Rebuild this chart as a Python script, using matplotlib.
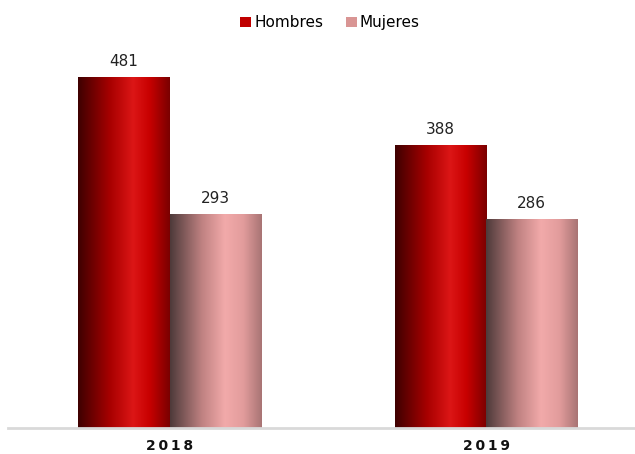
#!/usr/bin/python
# -*- coding: UTF-8 -*-
"""
Hombres / Mujeres por año - barras con degradado
"""
import matplotlib
matplotlib.use('Agg')
import matplotlib.pyplot as plt
import numpy as np
from matplotlib.colors import LinearSegmentedColormap
from matplotlib.patches import Patch

# datos
years = ['2018', '2019']
hombres = [481, 388]
mujeres = [293, 286]
series_names = ['Hombres', 'Mujeres']

plt.rcParams['font.family'] = ['DejaVu Sans']

# degradados horizontales (efecto cilindro)
cmap_h = LinearSegmentedColormap.from_list('h', [
    (0.0, '#3e0000'), (0.35, '#a80000'), (0.6, '#dc1616'),
    (0.78, '#c80000'), (1.0, '#7a0000')])
cmap_m = LinearSegmentedColormap.from_list('m', [
    (0.0, '#4e3a3a'), (0.35, '#c08282'), (0.6, '#f2aaaa'),
    (0.8, '#e29c9c'), (1.0, '#a87474')])

fig = plt.figure(figsize=(6.35, 4.54), dpi=100)
ax = fig.add_axes([8 / 635, 26 / 454, 627 / 635, 364 / 454])

x = np.arange(len(years))
width = 0.2875
grad = np.linspace(0, 1, 256).reshape(1, -1)

# barras con imshow para el degradado
for xi, vals, cmap in [(x - width / 2, hombres, cmap_h), (x + width / 2, mujeres, cmap_m)]:
    for cx, v in zip(xi, vals):
        ax.imshow(grad, cmap=cmap, aspect='auto', interpolation='bilinear',
                  extent=(cx - width / 2, cx + width / 2, 0, v), zorder=2)
        ax.text(cx, v + 12, f'{v}', ha='center', va='bottom', fontsize=11, color='#222222')

ax.set_xlim(-0.51, 1.47)
ax.set_ylim(0, 500)

# ejes
for s in ['top', 'right', 'left']:
    ax.spines[s].set_visible(False)
ax.spines['bottom'].set_color('#d9d9d9')
ax.spines['bottom'].set_linewidth(2)
ax.set_yticks([])
ax.set_xticks(x)
# espaciado fino entre cifras
ax.set_xticklabels(['\u2009'.join(y) for y in years], fontsize=10, fontweight='bold', color='#111111')
ax.tick_params(axis='x', length=0, pad=8)

# leyenda
handles = [Patch(facecolor='#c00000', edgecolor='none'),
           Patch(facecolor='#d99594', edgecolor='none')]
fig.legend(handles, series_names, loc='center', bbox_to_anchor=(0.52, 0.95), ncol=2,
           frameon=False, fontsize=11, handlelength=0.7, handleheight=0.7,
           handletextpad=0.2, columnspacing=1.5)

plt.savefig('out.png', dpi=100, facecolor='white')
